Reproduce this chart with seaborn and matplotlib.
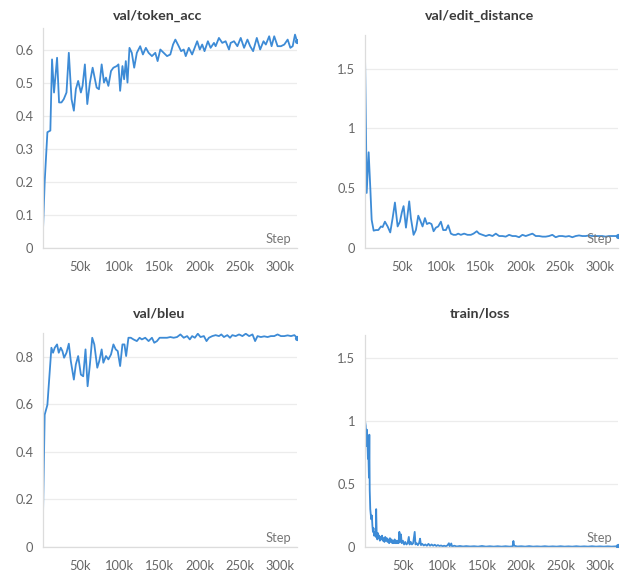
import matplotlib
matplotlib.use("Agg")
import matplotlib.pyplot as plt
import seaborn as sns
import pandas as pd
from matplotlib.ticker import FuncFormatter

# ---------------- data (steps in thousands) ----------------
TOKEN_STEP = [3.8, 5.9, 9.3, 13, 15.1, 17.6, 21.4, 23.9, 26.9, 29.8, 33.2, 36.1, 39.5, 42.4, 44.9, 47.8,
              51.2, 53.3, 56.2, 59.2, 62.5, 65.9, 70.9, 73.8, 77.2, 80.1, 82.6, 85.6, 88.9, 91.9, 96.1, 98.2,
              100.3, 103.2, 105.3, 107.4, 109.5, 112, 114.9, 117.9, 121.2, 125.4, 128.8, 132.5, 135.9, 140.1,
              144.3, 147.2, 150.6, 154.8, 159, 163.1, 166.5, 169.4, 173.6, 176.6, 179.9, 182.4, 186.2, 190.4,
              196.7, 200, 203, 205.9, 210.1, 213.5, 217.7, 219.8, 223.9, 228.1, 232.3, 236.5, 238.6, 242.8,
              247, 251.2, 255.4, 259.6, 263, 266.7, 271.3, 275.5, 279.7, 282.6, 286.8, 289.8, 293.1, 297.3,
              301.5, 305.7, 309.9, 313.3, 316.2, 319.1, 321.6]
TOKEN_ACC = [0.055, 0.2, 0.35, 0.355, 0.57, 0.47, 0.575, 0.44, 0.44, 0.45, 0.47, 0.59, 0.45, 0.415, 0.48, 0.505,
             0.47, 0.49, 0.555, 0.435, 0.5, 0.545, 0.485, 0.48, 0.555, 0.5, 0.515, 0.49, 0.535, 0.545, 0.55, 0.555,
             0.475, 0.55, 0.51, 0.565, 0.5, 0.605, 0.59, 0.545, 0.59, 0.61, 0.585, 0.605, 0.59, 0.58,
             0.59, 0.565, 0.6, 0.59, 0.58, 0.585, 0.615, 0.63, 0.61, 0.595, 0.6, 0.58, 0.605, 0.585,
             0.625, 0.6, 0.615, 0.595, 0.625, 0.605, 0.62, 0.61, 0.635, 0.62, 0.625, 0.6, 0.62, 0.625,
             0.61, 0.635, 0.605, 0.63, 0.61, 0.595, 0.635, 0.6, 0.625, 0.615, 0.64, 0.61, 0.64, 0.61,
             0.61, 0.615, 0.63, 0.605, 0.61, 0.645, 0.625]

EDIT_STEP = [4, 5.2, 6.1, 8.6, 10.7, 12.4, 14.9, 17.8, 20.8, 24.1, 26.2, 29.1, 32.5, 35.8, 38.8, 41.7, 45.1, 48,
             50.5, 52.6, 55.6, 59.7, 61.8, 65.2, 68.1, 71.1, 73.6, 76.5, 79.5, 82, 84.9, 87.8, 90.4, 93.3, 96.2,
             99.6, 102.5, 105.9, 108.8, 112.2, 115.5, 118.5, 121.4, 124.7, 128.9, 133.1, 137.3, 140.7, 144.8,
             147.8, 152, 156.2, 160.4, 164.6, 168.8, 173, 177.2, 181.3, 185.5, 189.7, 193.9, 198.1, 202.3,
             206.5, 210.7, 214.9, 219.1, 223.3, 227.5, 231.7, 235.8, 240, 244.2, 248.4, 252.6, 256.8, 261,
             265.2, 269.4, 273.6, 277.8, 282, 286.2, 290.4, 294.5, 298.7, 302.9, 307.1, 311.3, 315.5, 319.7, 322.7]
EDIT_DIST = [1.62, 1.0, 0.46, 0.8, 0.5, 0.235, 0.145, 0.15, 0.15, 0.18, 0.175, 0.22, 0.18, 0.13, 0.25, 0.38, 0.18, 0.22,
             0.3, 0.35, 0.17, 0.39, 0.25, 0.11, 0.15, 0.27, 0.23, 0.18, 0.25, 0.2, 0.21, 0.2, 0.14, 0.17, 0.18,
             0.22, 0.15, 0.15, 0.19, 0.12, 0.11, 0.11, 0.12, 0.11, 0.12, 0.11, 0.11, 0.12, 0.14,
             0.12, 0.11, 0.1, 0.11, 0.1, 0.12, 0.1, 0.1, 0.095, 0.11, 0.1, 0.1, 0.09, 0.11,
             0.1, 0.11, 0.12, 0.1, 0.1, 0.095, 0.095, 0.1, 0.11, 0.09, 0.1, 0.1, 0.095, 0.1,
             0.09, 0.1, 0.105, 0.1, 0.1, 0.105, 0.1, 0.1, 0.1, 0.1, 0.095, 0.1, 0.1, 0.1, 0.1]

BLEU_STEP = [3.8, 5.9, 9.3, 14.3, 16.4, 18.5, 21.4, 23.5, 26, 28.1, 30.2, 33.2, 36.1, 38.6, 42.4, 44.9, 47.8, 51.2,
             54.1, 57, 59.6, 62.5, 65.4, 68, 71.7, 74.2, 77.2, 79.3, 82.6, 85.6, 88.9, 91.9, 94.8, 97.3, 100.3,
             103.2, 105.7, 107.8, 110.7, 113.7, 117, 121.2, 124.6, 127.5, 131.7, 135.9, 140.1, 143, 146.4, 149.7,
             154.8, 159, 163.1, 167.3, 171.5, 175.7, 179.9, 184.1, 187.5, 190.4, 193.8, 197.5, 200.9, 205.1,
             208.4, 211.4, 215.6, 219.8, 224, 226.9, 230.2, 234.4, 237.8, 240.7, 244.9, 249.1, 253.3, 257.5,
             261.7, 265.9, 269.2, 272.2, 276.4, 280.6, 284.8, 288.9, 293.1, 297.3, 301.5, 305.7, 309.9, 314.1,
             318.3, 321.6]
BLEU = [0.134, 0.556, 0.598, 0.838, 0.817, 0.838, 0.852, 0.817, 0.838, 0.824, 0.796, 0.817, 0.855, 0.782, 0.704,
        0.768, 0.803, 0.725, 0.718, 0.831, 0.676, 0.768, 0.88, 0.852, 0.754, 0.782, 0.831, 0.775, 0.803, 0.789,
        0.81, 0.852, 0.831, 0.824, 0.761, 0.852, 0.852, 0.803, 0.88, 0.88, 0.873, 0.866, 0.88, 0.873, 0.88,
        0.866, 0.88, 0.859, 0.866, 0.88, 0.88, 0.88, 0.883, 0.88, 0.883, 0.894, 0.88, 0.887, 0.873, 0.887,
        0.88, 0.897, 0.883, 0.887, 0.866, 0.88, 0.887, 0.891, 0.887, 0.894, 0.883, 0.891, 0.88, 0.891, 0.887,
        0.894, 0.887, 0.897, 0.887, 0.894, 0.866, 0.887, 0.883, 0.886, 0.883, 0.887, 0.887, 0.894, 0.887,
        0.887, 0.89, 0.887, 0.891, 0.88]

LOSS_STEP = [1.3, 2.2, 3.0, 3.6, 4.3, 5.0, 5.6, 6.3, 6.8, 7.3, 8.0, 8.6, 9.2, 10.0, 10.7, 11.4, 12.1, 12.8, 13.5,
             14.2, 15.0, 15.5, 16.2, 17.0, 17.8, 18.6, 19.4, 20.2, 21.0, 22.0, 23.0, 24.0, 25.0, 26.0, 27.0,
             28.0, 29.0, 30.0, 31.0, 32.0, 33.0, 34.0, 35.0, 36.0, 37.0, 38.0, 39.0, 40.0, 41.0, 42.0, 43.0,
             44.0, 45.0, 46.0, 47.0, 48.0, 49.5, 51.0, 52.5, 54.0, 55.5, 57.0, 58.0, 59.5, 61.0, 62.5, 64.5,
             65.5, 67.0, 68.5, 70.0, 71.3, 72.5, 74.0, 76.0, 78.0, 80.0, 82.0, 84.0, 86.0, 88.0, 90.0, 92.0,
             94.0, 96.0, 98.0, 100.0, 102.0, 104.0, 106.0, 108.0, 109.0, 111.0, 112.0, 115.0, 118.0, 122.0,
             126.0, 130.0, 135.0, 140.0, 145.0, 150.0, 155.0, 160.0, 165.0, 170.0, 175.0, 180.0, 185.0, 189.0,
             190.0, 191.0, 195.0, 200.0, 205.0, 210.0, 215.0, 220.0, 225.0, 230.0, 235.0, 240.0, 245.0, 250.0,
             255.0, 260.0, 265.0, 270.0, 275.0, 280.0, 285.0, 290.0, 295.0, 300.0, 305.0, 310.0, 315.0, 320.0,
             323.0]
LOSS = [1.0, 0.96, 0.80, 0.93, 0.85, 0.70, 0.74, 0.55, 0.89, 0.45, 0.30, 0.26, 0.22, 0.25, 0.17, 0.12, 0.15, 0.09,
        0.12, 0.10, 0.08, 0.30, 0.09, 0.06, 0.11, 0.07, 0.09, 0.05, 0.08, 0.06, 0.09, 0.05, 0.07, 0.04, 0.08,
        0.05, 0.07, 0.04, 0.06, 0.03, 0.07, 0.04, 0.06, 0.03, 0.05, 0.03, 0.06, 0.03, 0.05, 0.03, 0.05,
        0.03, 0.12, 0.04, 0.10, 0.03, 0.05, 0.02, 0.04, 0.02, 0.03, 0.08, 0.02, 0.04, 0.02, 0.03, 0.12,
        0.02, 0.03, 0.015, 0.03, 0.066, 0.015, 0.025, 0.012, 0.02, 0.01, 0.025, 0.01, 0.02, 0.01, 0.018, 0.008,
        0.015, 0.008, 0.012, 0.006, 0.01, 0.006, 0.012, 0.03, 0.006, 0.028, 0.005, 0.01, 0.004, 0.008,
        0.004, 0.007, 0.004, 0.006, 0.003, 0.008, 0.003, 0.006, 0.003, 0.006, 0.003, 0.006, 0.003, 0.005,
        0.048, 0.01, 0.004, 0.006, 0.003, 0.007, 0.003, 0.005, 0.003, 0.006, 0.003, 0.005, 0.003, 0.006,
        0.003, 0.005, 0.003, 0.006, 0.003, 0.005, 0.003, 0.006, 0.003, 0.005, 0.003, 0.005, 0.003, 0.005,
        0.004]

TITLES = ["val/token_acc", "val/edit_distance", "val/bleu", "train/loss"]
X_TICKS = [50, 100, 150, 200, 250, 300]
X_LABELS = ["50k", "100k", "150k", "200k", "250k", "300k"]
Y_TICKS = [[0, 0.1, 0.2, 0.3, 0.4, 0.5, 0.6], [0, 0.5, 1, 1.5], [0, 0.2, 0.4, 0.6, 0.8], [0, 0.5, 1, 1.5]]
Y_TOPS = [0.665, 1.78, 0.90, 1.68]

# ---------------- style ----------------
sns.set_theme(style="white")
plt.rcParams["font.family"] = ["Lato", "DejaVu Sans"]

LINE = "#3d8bd6"
GRID = "#ececec"
SPINE = "#dcdcdc"
TICKC = "#666666"

W, H = 629, 575
fig = plt.figure(figsize=(W / 100, H / 100), dpi=100)

# axes boxes in pixels: left, top, right, bottom
boxes = [(43, 28, 297, 248), (365, 35, 618, 248), (43, 333, 297, 547), (365, 335, 618, 547)]
title_pos = [(158, 16), (480, 16), (159, 314), (480, 314)]
series = [(TOKEN_STEP, TOKEN_ACC), (EDIT_STEP, EDIT_DIST), (BLEU_STEP, BLEU), (LOSS_STEP, LOSS)]

for i, ((l, t, r, b), (xs, ys)) in enumerate(zip(boxes, series)):
    ax = fig.add_axes([l / W, 1 - b / H, (r - l) / W, (b - t) / H])
    df = pd.DataFrame({"step": xs, "value": ys})
    sns.lineplot(data=df, x="step", y="value", ax=ax, color=LINE, linewidth=1.3)
    sns.scatterplot(data=df.tail(1), x="step", y="value", ax=ax, color=LINE, s=14, linewidth=0, zorder=5)
    ax.set_xlim(min(xs), max(xs))
    ax.set_ylim(0, Y_TOPS[i])
    ax.set_xticks(X_TICKS)
    ax.set_xticklabels(X_LABELS)
    ax.set_yticks(Y_TICKS[i])
    ax.yaxis.set_major_formatter(FuncFormatter(lambda v, p: f"{v:g}"))
    ax.set_xlabel("")
    ax.set_ylabel("")
    for s in ["top", "right"]:
        ax.spines[s].set_visible(False)
    for s in ["left", "bottom"]:
        ax.spines[s].set_color(SPINE)
        ax.spines[s].set_linewidth(0.9)
    ax.grid(axis="y", color=GRID, linewidth=0.9)
    ax.set_axisbelow(True)
    ax.tick_params(axis="both", which="both", length=3, width=0.8, color=SPINE,
                   labelcolor=TICKC, labelsize=9.3)
    ax.tick_params(axis="x", pad=6.5)
    ax.tick_params(axis="y", pad=4)
    ax.annotate("Step", xy=(1, 0), xycoords="axes fraction", xytext=(-6, 9),
                textcoords="offset pixels", ha="right", va="center", color="#777777", fontsize=9.3)
    tx, ty = title_pos[i]
    fig.text(tx / W, 1 - ty / H, TITLES[i], ha="center", va="center",
             fontsize=10.3, fontweight="bold", color="#3b3b3b")

fig.savefig("out.png", dpi=100, facecolor="white")
